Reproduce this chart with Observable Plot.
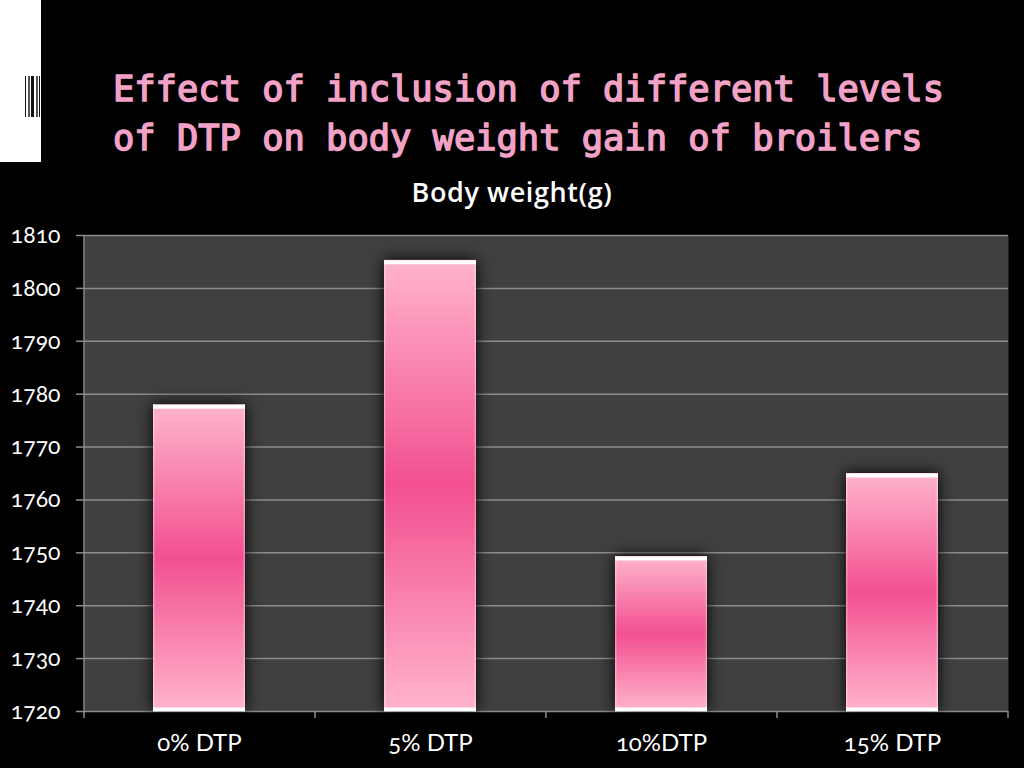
<!DOCTYPE html>
<html><head><meta charset="utf-8">
<script src="https://cdn.jsdelivr.net/npm/d3@7"></script>
<script src="https://cdn.jsdelivr.net/npm/@observablehq/plot@0.6"></script>
<style>
html,body{margin:0;padding:0;background:#000;width:1024px;height:768px;overflow:hidden}
#tab{position:absolute;left:0;top:0;width:41px;height:162px;background:#fff}
#code{position:absolute;left:25px;top:76px;width:15px;height:41px;background:repeating-linear-gradient(90deg,#111 0 1px,#fff 1px 3px,#555 3px 5px,#fff 5px 6px,#111 6px 8px)}
#title{position:absolute;left:113px;top:64px;margin:0;font:normal 35.4px/49px "DejaVu Sans Mono",monospace;-webkit-text-stroke:1.5px #f2a2c6;color:#f2a2c6;white-space:nowrap}
#sub{position:absolute;left:0;width:1024px;top:175px;text-align:center;font:600 27px/34px "Open Sans",sans-serif;letter-spacing:.6px;color:#fff}
#chart{position:absolute;left:0;top:210px}
svg{display:block;background:transparent;overflow:visible}
svg text{font-feature-settings:"onum" 1;font-variant-numeric:oldstyle-nums}
</style></head><body>
<div id="tab"><div id="code"></div></div>
<h1 id="title">Effect of inclusion of different levels<br>of DTP on body weight gain of broilers</h1>
<div id="sub">Body weight(g)</div>
<div id="chart"></div>
<script>
const categories = ["0% DTP","5% DTP","10%DTP","15% DTP"];
const values = [1778,1805.3,1749.3,1765];
const yTicks = [1720,1730,1740,1750,1760,1770,1780,1790,1800,1810];
const base = 1720;
const data = categories.map((c,i)=>({c,v:values[i]}));

function defs(){
  const d = d3.create("svg:defs");
  const g = d.append("linearGradient").attr("id","pinkbar").attr("x1",0).attr("x2",0).attr("y1",0).attr("y2",1);
  [[0,"#ffb4ce"],[.5,"#f2508f"],[1,"#ffb4ce"]].forEach(([o,c])=>g.append("stop").attr("offset",o).attr("stop-color",c));
  const s = d.append("linearGradient").attr("id","sideglow").attr("x1",0).attr("x2",1).attr("y1",0).attr("y2",0);
  [[0,.4],[.025,0],[.975,0],[1,.4]].forEach(([o,a])=>s.append("stop").attr("offset",o).attr("stop-color","#fff").attr("stop-opacity",a));
  return d.node();
}
function bandEdges(index,{x,y},channels,dim){
  const g = d3.create("svg:g").attr("stroke","#8c8c8c").attr("stroke-width",1.5);
  const step = x.step();
  const left = dim.marginLeft;
  const y0 = dim.height-dim.marginBottom;
  d3.range(categories.length+1).forEach(i=>{
    const px = left+i*step;
    g.append("line").attr("x1",px).attr("x2",px).attr("y1",y0).attr("y2",y0+7);
  });
  g.append("line").attr("x1",left).attr("x2",left).attr("y1",dim.marginTop).attr("y2",y0);
  return g.node();
}
const plot = Plot.plot({
  width:1024,height:558,
  marginLeft:84,marginRight:16,marginTop:25,marginBottom:57,
  style:{background:"transparent",color:"#fff",fontFamily:"Lato, 'Open Sans', sans-serif",fontSize:"23px",overflow:"visible"},
  x:{domain:categories,paddingInner:0.6,paddingOuter:0.3,align:0.5,label:null},
  y:{domain:[base,1810],label:null},
  marks:[
    defs,
    Plot.frame({fill:"#404040",stroke:null}),
    Plot.ruleY(yTicks,{stroke:"#8c8c8c",strokeWidth:1.5}),
    bandEdges,
    Plot.barY(data,{x:"c",y1:()=>base,y2:"v",fill:"url(#pinkbar)",imageFilter:"drop-shadow(0 0 8px #000)"}),
    Plot.barY(data,{x:"c",y1:()=>base,y2:"v",fill:"url(#sideglow)"}),
    Plot.tickY(data,{x:"c",y:"v",stroke:"#fff",strokeWidth:4,dy:2}),
    Plot.tickY(data,{x:"c",y:()=>base,stroke:"#fff",strokeWidth:4,dy:-2}),
    Plot.axisY({ticks:yTicks,tickFormat:d=>String(d),tickSize:8,tickPadding:16,stroke:"#8c8c8c",strokeWidth:1.5,fontSize:23,fontWeight:400,fill:"#fff",label:null}),
    Plot.axisX({tickSize:0,tickPadding:22,fontSize:24,fontWeight:400,fill:"#fff",label:null})
  ]
});
document.getElementById("chart").append(plot);
</script>
</body></html>
